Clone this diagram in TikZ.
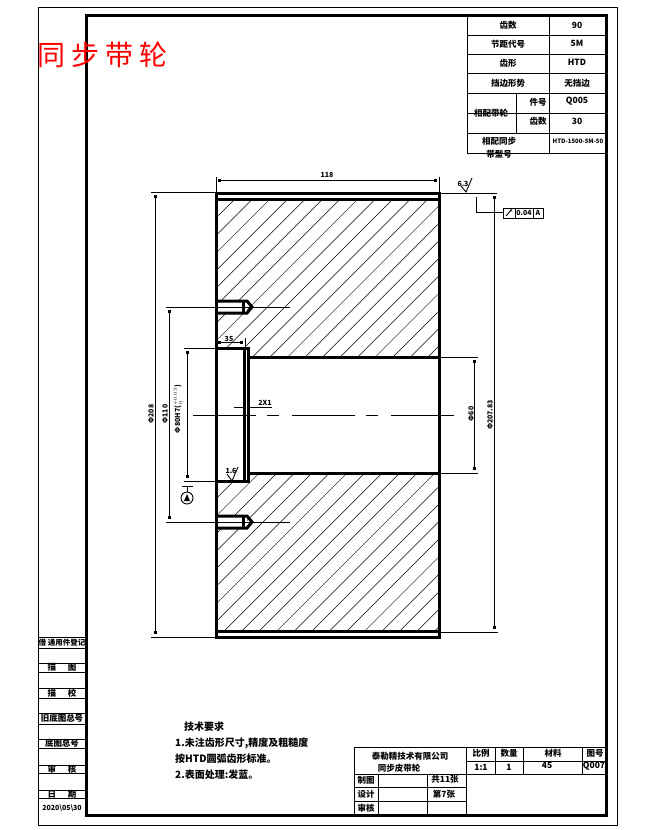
\documentclass[tikz,border=0pt]{standalone}
\usepackage{fontspec}
\usetikzlibrary{arrows.meta}
\newfontfamily\cjk{Noto Sans CJK SC}
\tikzset{
    thinline/.style={line width=0.9pt},
    heavy/.style={line width=3pt},
    hatchline/.style={line width=0.5pt},
    dimline/.style={line width=0.8pt, {Rectangle[length=2.6pt,width=2.6pt]}-{Rectangle[length=2.6pt,width=2.6pt]}},
    cell/.style={font=\cjk\bfseries\fontsize{8.5}{9}\selectfont, inner sep=0pt},
    dimtext/.style={font=\cjk\bfseries\fontsize{7}{7}\selectfont, inner sep=0pt},
    note/.style={font=\cjk\bfseries\fontsize{10}{12}\selectfont, inner sep=0pt, anchor=west},
}
\begin{document}
\begin{tikzpicture}[x=1pt, y=1pt, yscale=-1]
    \useasboundingbox [fill=white] (0,0) rectangle (654,830);

    % frames
    \draw [thinline] (38,7) rectangle (617,825);
    \draw [heavy] (86,15) rectangle (606,815);

    % hatching
    \begin{scope}
        \clip (216,199) -- (439,199) -- (439,357) -- (248,357) -- (248,348) -- (216,348) -- cycle
              (216,481) -- (248,481) -- (248,473) -- (439,473) -- (439,631) -- (216,631) -- cycle;
        \foreach \k in {-2,...,38}
            \draw [hatchline] (216,{434+17.55*\k-216}) -- (439,{434+17.55*\k-439});
    \end{scope}

    % bolt holes
    \foreach \yc in {307,522} {
        \fill [white] (216,\yc-6) rectangle (247,\yc+6);
        \draw [heavy] (216,\yc-6) -- (247,\yc-6) -- (252,\yc) -- (247,\yc+6) -- (216,\yc+6);
        \draw [heavy] (243,\yc-7) -- (243,\yc+7);
    }

    % part outline
    \draw [heavy] (216,193) rectangle (439,637);
    \draw [heavy] (216,199) -- (439,199);
    \draw [heavy] (216,631) -- (439,631);
    \draw [heavy] (216,348) -- (248,348) -- (248,481) -- (216,481);
    \draw [heavy] (244,348) -- (244,481);
    \draw [heavy] (248,357) -- (439,357);
    \draw [heavy] (248,473) -- (439,473);

    % centre line
    \draw [thinline, dash pattern=on 63pt off 11pt on 12pt off 13pt] (193,415) -- (454,415);

    % extension lines
    \draw [thinline] (151,192) -- (216,192);
    \draw [thinline] (151,637) -- (216,637);
    \draw [thinline] (166,307) -- (290,307);
    \draw [thinline] (166,522) -- (290,522);
    \draw [thinline] (184,348) -- (216,348);
    \draw [thinline] (184,481) -- (216,481);
    \draw [thinline] (216,177) -- (216,192);
    \draw [thinline] (439,177) -- (439,192);
    \draw [thinline] (245,338) -- (245,348);
    \draw [thinline] (439,193) -- (497,193);
    \draw [thinline] (439,632) -- (498,632);
    \draw [thinline] (439,357) -- (478,357);
    \draw [thinline] (439,473) -- (478,473);

    % dimensions
    \draw [dimline] (218,180) -- (437,180);
    \node [dimtext] (wlabel) at (327,175) {118};
    \draw [dimline] (155,195) -- (155,634);
    \node [dimtext, rotate=90] (odlabel) at (151,414) {Φ208};
    \draw [dimline] (169,310) -- (169,519);
    \node [dimtext, rotate=90] (boltlabel) at (165,414) {Φ110};
    \draw [dimline] (187,351) -- (187,478);
    \node [dimtext, rotate=90] (borelabel) at (178,409) {Φ80H7($^{+0.03}_{\,0}$)};
    \draw [dimline] (218,342) -- (243,342);
    \node [dimtext] (steplabel) at (229,339) {35};
    \draw [dimline] (494,196) -- (494,629);
    \node [dimtext, rotate=90] (pitchlabel) at (490,415) {Φ207.83};
    \draw [dimline] (474,360) -- (474,470);
    \node [dimtext, rotate=90] (holelabel) at (471,414) {Φ60};

    % chamfer note
    \node [dimtext] (chamlabel) at (265,403) {2X1};
    \draw [thinline] (234,407) -- (244,407);
    \draw [thinline] (248,407) -- (272,407);

    % surface marks
    \node [dimtext] (rougha) at (231,471) {1.6};
    \draw [thinline] (227,474) -- (232,481) -- (238,467);
    \node [dimtext] (roughb) at (463,184) {6.3};
    \draw [thinline] (461,186) -- (466,192) -- (472,178);

    % datum
    \draw [thinline] (182,486) -- (193,486);
    \draw [thinline] (187,486) -- (187,492);
    \draw [thinline] (187,498) circle (6);
    \fill (187,494) -- (190,501) -- (184,501) -- cycle;

    % tolerance frame
    \draw [thinline] (476,197) -- (476,212) -- (503,212);
    \draw [thinline] (503,208) rectangle (543,218);
    \draw [thinline] (515,208) -- (515,218);
    \draw [thinline] (533,208) -- (533,218);
    \draw [thinline, -{Latex[length=2.5pt,width=2.5pt]}] (506,216) -- (512,209);
    \node [dimtext] (tolvalue) at (524,213) {0.04};
    \node [dimtext] (tolref) at (538,213) {A};

    % gear table
    \draw [thinline] (467,15) -- (467,153) -- (606,153);
    \foreach \yr in {35,54,73,93,113,133}
        \draw [thinline] (467,\yr) -- (606,\yr);
    \draw [thinline] (549,15) -- (549,153);
    \draw [thinline] (516,93) -- (516,133);
    \fill [white] (468,113.6) rectangle (515.6,132.6);
    \node [cell] (teeth) at (508,25) {齿数};
    \node [cell] (teethval) at (577,25) {90};
    \node [cell] (pitch) at (508,44) {节距代号};
    \node [cell] (pitchval) at (577,43) {5M};
    \node [cell] (shape) at (508,63) {齿形};
    \node [cell] (shapeval) at (577,62) {HTD};
    \node [cell] (flange) at (508,83) {挡边形势};
    \node [cell] (flangeval) at (577,83) {无挡边};
    \node [cell] (mate) at (491,113) {相配带轮};
    \node [cell] (mateno) at (538,102) {件号};
    \node [cell] (matenoval) at (577,101) {Q005};
    \node [cell] (mateteeth) at (538,121) {齿数};
    \node [cell] (mateteethval) at (577,121) {30};
    \node [cell] (belta) at (499,141) {相配同步};
    \node [cell] (beltb) at (499,154) {带型号};
    \node [dimtext, font=\cjk\bfseries\fontsize{6}{7}\selectfont] (beltval) at (578,141) {HTD-1500-5M-50};

    % title block
    \draw [thinline] (354,815) -- (354,747) -- (606,747);
    \draw [thinline] (466,761) -- (606,761);
    \draw [thinline] (354,774) -- (606,774);
    \draw [thinline] (354,787) -- (466,787);
    \draw [thinline] (354,801) -- (466,801);
    \draw [thinline] (466,747) -- (466,815);
    \draw [thinline] (378,774) -- (378,815);
    \draw [thinline] (427,774) -- (427,815);
    \foreach \xc in {495,523,582}
        \draw [thinline] (\xc,747) -- (\xc,774);
    \node [cell] (firm) at (410,756) {泰勒精技术有限公司};
    \node [cell] (partname) at (399,768) {同步皮带轮};
    \node [cell] (scale) at (481,753) {比例};
    \node [cell] (scaleval) at (481,767) {1:1};
    \node [cell] (qty) at (509,753) {数量};
    \node [cell] (qtyval) at (509,767) {1};
    \node [cell] (matl) at (553,753) {材料};
    \node [cell] (matlval) at (547,765) {45};
    \node [cell] (dwg) at (595,753) {图号};
    \node [cell] (dwgval) at (594,766) {Q007};
    \node [cell] (drawn) at (366,780) {制图};
    \node [cell] (design) at (366,794) {设计};
    \node [cell] (check) at (366,808) {审核};
    \node [cell] (sheets) at (445,779) {共11张};
    \node [cell] (sheetno) at (444,794) {第7张};

    % left strip
    \draw [thinline] (38,637) -- (86,637);
    \foreach \yr in {648,663,672,688,698,713,724,739,748,765,773,790,798}
        \draw [thinline] (38,\yr) -- (86,\yr);
    \node [cell, font=\cjk\bfseries\fontsize{7.5}{9}\selectfont] (reg) at (62,643) {借 通用件登记};
    \node [cell] (tracea) at (62,667.5) {描\hspace{12pt}图};
    \node [cell] (traceb) at (62,693) {描\hspace{12pt}校};
    \node [cell] (oldno) at (62,718.5) {旧底图总号};
    \node [cell] (baseno) at (62,743.5) {底图总号};
    \node [cell] (review) at (62,769) {审\hspace{12pt}核};
    \node [cell] (daterow) at (62,794) {日\hspace{12pt}期};
    \node [dimtext] (dateval) at (62,808) {2020\textbackslash 05\textbackslash 30};

    % notes
    \node [note] (noteh) at (184,727) {技术要求};
    \node [note] (notea) at (175,743) {1.未注齿形尺寸,精度及粗糙度};
    \node [note] (noteb) at (175,759) {按HTD圆弧齿形标准。};
    \node [note] (notec) at (175,775) {2.表面处理:发蓝。};

    % stamp
    \node [font=\cjk\fontsize{28}{30}\selectfont, text=red, inner sep=0pt, anchor=west] (stamp) at (37,55)
        {同\hspace{6pt}步\hspace{6pt}带\hspace{6pt}轮};
\end{tikzpicture}
\end{document}
